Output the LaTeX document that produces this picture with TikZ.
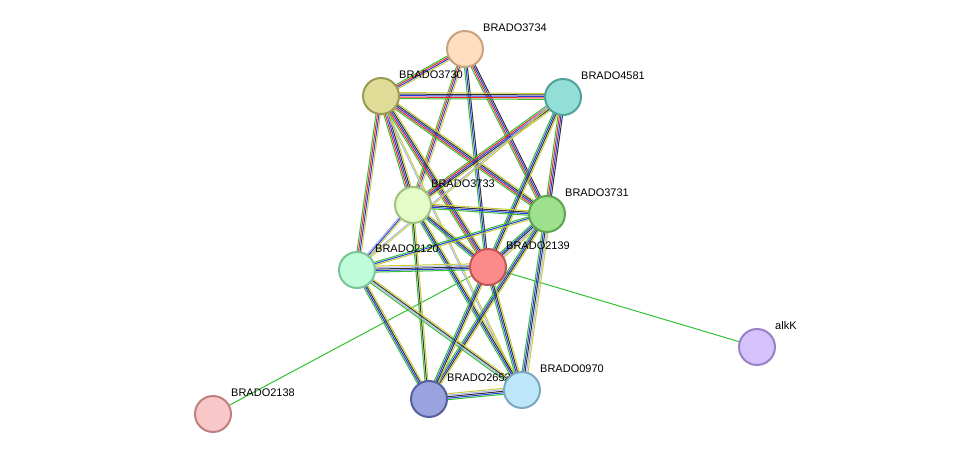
\documentclass[tikz,border=0pt]{standalone}
\usepackage{fontspec}
\setmainfont{Liberation Sans}
\usetikzlibrary{calc,backgrounds}
\definecolor{sg}{HTML}{33C033}
\definecolor{sr}{HTML}{F02828}
\definecolor{sb}{HTML}{2A3CE0}
\definecolor{sk}{HTML}{333333}
\definecolor{sy}{HTML}{C8CC3A}
\definecolor{sc}{HTML}{40B8D0}
\definecolor{sl}{HTML}{A8B4EE}
\definecolor{f1}{HTML}{FEDDC0}\definecolor{d1}{HTML}{C9A27E}
\definecolor{f2}{HTML}{DEDC96}\definecolor{d2}{HTML}{9A9A55}
\definecolor{f3}{HTML}{93DED6}\definecolor{d3}{HTML}{4FA39B}
\definecolor{f4}{HTML}{E3FCC8}\definecolor{d4}{HTML}{A1C17F}
\definecolor{f5}{HTML}{9DE08E}\definecolor{d5}{HTML}{5DA54E}
\definecolor{f6}{HTML}{BFFCD9}\definecolor{d6}{HTML}{7BC49A}
\definecolor{f7}{HTML}{FD8A8A}\definecolor{d7}{HTML}{C45555}
\definecolor{f8}{HTML}{D5C2FC}\definecolor{d8}{HTML}{9A80C4}
\definecolor{f9}{HTML}{9AA3DE}\definecolor{d9}{HTML}{5761A0}
\definecolor{f10}{HTML}{BDE6FB}\definecolor{d10}{HTML}{7DA8C1}
\definecolor{f11}{HTML}{F8C8C8}\definecolor{d11}{HTML}{C08080}
\tikzset{
  prot/.style={circle,minimum size=36pt,inner sep=0pt,line width=2pt},
  lab/.style={anchor=west,font=\fontsize{11}{13}\selectfont,inner sep=0pt},
}
\newcommand\ed[3]{%
  \foreach \cc [count=\i] in {#3} {%
    \pgfmathsetmacro\o{(\i-1)*1.5-2.5}%
    \draw[\cc,line width=1pt] ($(#1.center)!\o pt!90:(#2.center)$) -- ($(#2.center)!\o pt!-90:(#1.center)$);
  }}
\newcommand\Pn[6]{\node[prot,fill=#4,draw=#5] (#1) at (#2,#3) {};
  \node[lab] (l#1) at ($(#1)+(18,-21)$) {#6};}
\begin{document}
\begin{tikzpicture}[x=1pt,y=-1pt]
\useasboundingbox (0,0) rectangle (975,460);
\Pn{a3734}{465}{49}{f1}{d1}{BRADO3734}
\Pn{a3730}{381}{96}{f2}{d2}{BRADO3730}
\Pn{a4581}{563}{97}{f3}{d3}{BRADO4581}
\Pn{a3733}{413}{205}{f4}{d4}{BRADO3733}
\Pn{a3731}{547}{214}{f5}{d5}{BRADO3731}
\Pn{a2120}{357}{270}{f6}{d6}{BRADO2120}
\Pn{a2139}{488}{267}{f7}{d7}{BRADO2139}
\Pn{alkK}{757}{347}{f8}{d8}{alkK}
\Pn{a2653}{429}{399}{f9}{d9}{BRADO2653}
\Pn{a0970}{522}{390}{f10}{d10}{BRADO0970}
\Pn{a2138}{213}{414}{f11}{d11}{BRADO2138}
\begin{pgfonlayer}{background}
\draw[sg,line width=1pt] (a2139.center) -- (alkK.center);
\draw[sg,line width=1pt] (a2139.center) -- (a2138.center);
\ed{a3734}{a3730}{sg,sr,sb,sy}
\ed{a3734}{a3733}{sg,sr,sb,sy}
\ed{a3734}{a3731}{sg,sr,sb,sk}
\ed{a3734}{a2139}{sg,sb,sk}
\ed{a3730}{a4581}{sg,sr,sb,sk,sy}
\ed{a3730}{a3733}{sg,sr,sb,sk,sy}
\ed{a3730}{a3731}{sg,sr,sb,sk,sy}
\ed{a3730}{a2139}{sg,sr,sb,sk,sy}
\ed{a3730}{a2120}{sg,sr,sb,sy}
\ed{a3730}{a0970}{sl,sy}
\ed{a4581}{a3733}{sg,sr,sb,sk,sy}
\ed{a4581}{a3731}{sg,sr,sb,sk}
\ed{a4581}{a2139}{sg,sb,sk,sy}
\ed{a4581}{a2120}{sl,sy}
\ed{a3733}{a3731}{sg,sb,sk,sy}
\ed{a3733}{a2139}{sg,sb,sk,sy}
\ed{a3733}{a2120}{sl,sb,sy}
\ed{a3733}{a2653}{sg,sk,sy}
\ed{a3733}{a0970}{sg,sb,sk,sy}
\ed{a3731}{a2139}{sg,sb,sk,sl,sy}
\ed{a3731}{a2120}{sg,sb,sy}
\ed{a3731}{a2653}{sg,sb,sk,sy}
\ed{a3731}{a0970}{sg,sb,sk,sl,sy}
\ed{a2120}{a2139}{sg,sb,sk,sl,sy}
\ed{a2120}{a2653}{sg,sb,sk,sy}
\ed{a2120}{a0970}{sg,sl,sk,sy}
\ed{a2139}{a2653}{sg,sb,sk,sy}
\ed{a2139}{a0970}{sg,sb,sk,sy}
\ed{a2653}{a0970}{sg,sb,sk,sl,sy}
\end{pgfonlayer}
\end{tikzpicture}
\end{document}
